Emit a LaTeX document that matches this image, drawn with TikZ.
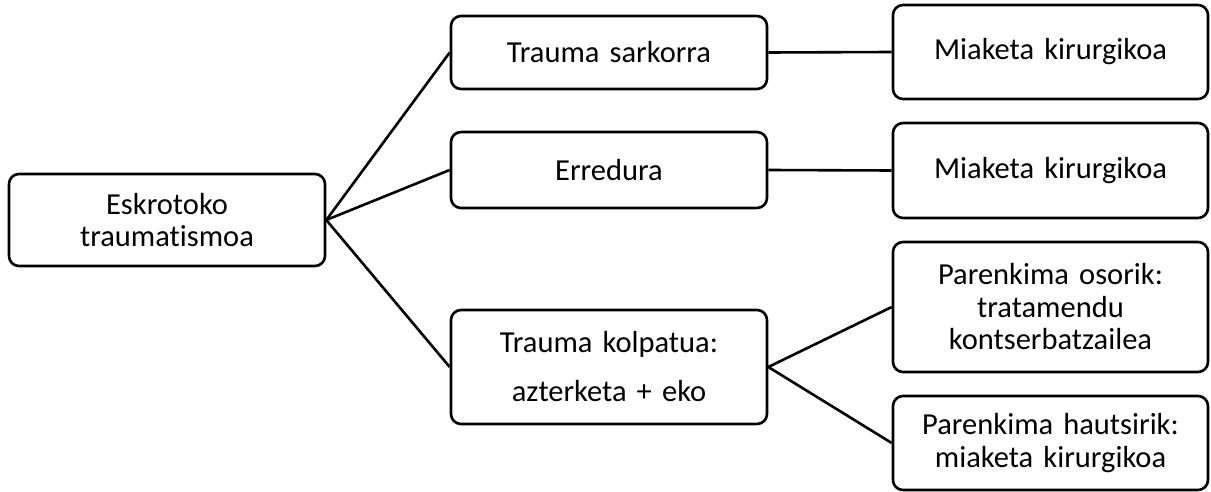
\documentclass[tikz,border=0pt]{standalone}
\usepackage{fontspec}
\setmainfont{Carlito}[Ligatures=NoCommon]
\begin{document}
\begin{tikzpicture}[x=1pt,y=-1pt,
  box/.style={draw=black, line width=2.6pt, rounded corners=10pt, fill=white,
    align=center, inner sep=0pt, text width=300pt, font=\fontsize{30.5}{32.5}\selectfont},
  link/.style={draw=black, line width=2.6pt}]
\useasboundingbox (0,0) rectangle (1211,492);
% left column
\node[box, minimum width=316pt, minimum height=92pt] (esk) at (167,220) {Eskrotoko\\traumatismoa};
% middle column
\node[box, minimum width=316pt, minimum height=73pt] (ts) at (609,52.5) {Trauma sarkorra};
\node[box, minimum width=316pt, minimum height=76pt] (er) at (609,170) {Erredura};
\node[box, minimum width=316pt, minimum height=114pt, font=\fontsize{30.5}{49}\selectfont] (tk) at (609,367) {Trauma kolpatua:\\azterketa + eko};
% right column
\node[box, minimum width=315pt, minimum height=94pt] (m1) at (1050.5,52) {Miaketa kirurgikoa};
\node[box, minimum width=315pt, minimum height=95pt] (m2) at (1050.5,170.5) {Miaketa kirurgikoa};
\node[box, minimum width=315pt, minimum height=130pt] (po) at (1050.5,307) {Parenkima osorik:\\tratamendu\\kontserbatzailea};
\node[box, minimum width=315pt, minimum height=94pt] (ph) at (1050.5,443) {Parenkima hautsirik:\\miaketa kirurgikoa};
% connectors
\draw[link] (esk.east) -- (ts.west);
\draw[link] (esk.east) -- (er.west);
\draw[link] (esk.east) -- (tk.west);
\draw[link] (ts.east) -- (m1.west);
\draw[link] (er.east) -- (m2.west);
\draw[link] (tk.east) -- (po.west);
\draw[link] (tk.east) -- (ph.west);
\end{tikzpicture}
\end{document}
